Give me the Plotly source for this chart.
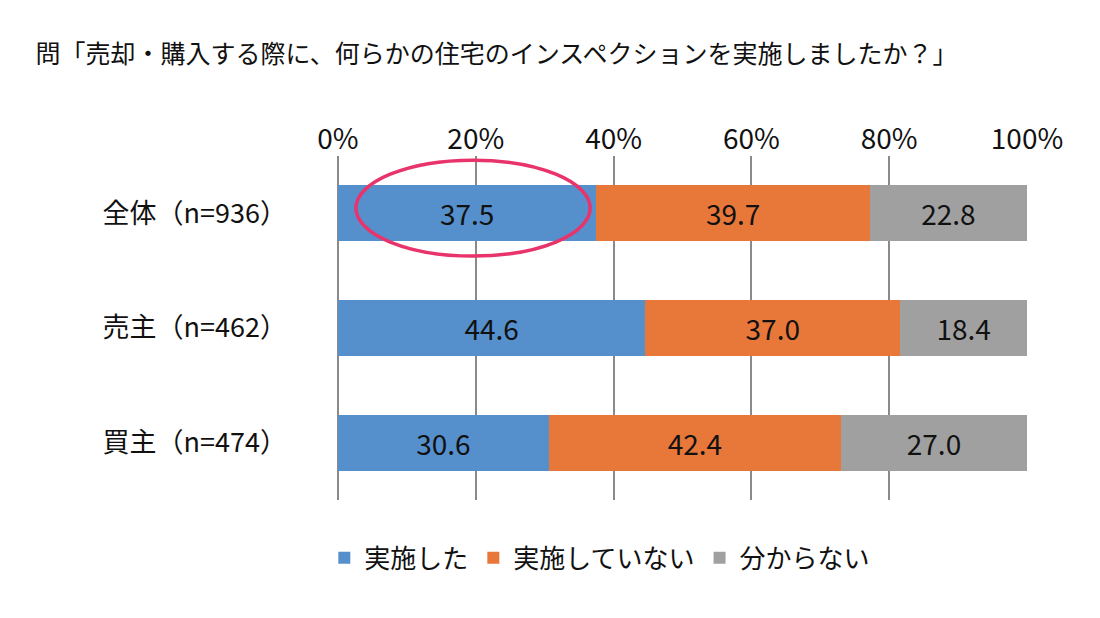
import plotly.graph_objects as go

categories = ["全体（n=936）", "売主（n=462）", "買主（n=474）"]
did = [37.5, 44.6, 30.6]
did_not = [39.7, 37.0, 42.4]
unknown = [22.8, 18.4, 27.0]
names = ["実施した", "実施していない", "分からない"]
colors = ["#5590cd", "#e8773a", "#a0a0a0"]
tickvals = [0, 20, 40, 60, 80, 100]
ticktext = ["0%", "20%", "40%", "60%", "80%", "100%"]

F = "Noto Sans CJK JP"
fig = go.Figure()
for vals, n, c in zip([did, did_not, unknown], names, colors):
    fig.add_trace(go.Bar(y=categories, x=vals, name=n, orientation="h", marker=dict(color=c, line=dict(width=0)),
                         text=[f"{v:.1f}" for v in vals], textposition="inside", insidetextanchor="middle",
                         textfont=dict(size=28, color="#111", family=F), width=0.49))
fig.update_layout(
    barmode="stack", width=1100, height=618, paper_bgcolor="white", plot_bgcolor="white",
    margin=dict(l=330, r=81, t=148, b=126, autoexpand=False), font=dict(family=F, color="#111"),
    xaxis=dict(side="top", range=[0, 100], tickvals=tickvals, ticktext=ticktext, showgrid=True,
               gridcolor="#8a8a8a", gridwidth=2, tickfont=dict(size=28, family=F), zeroline=True,
               zerolinecolor="#8a8a8a", zerolinewidth=2, ticks="", ticklen=0, automargin=False),
    yaxis=dict(autorange="reversed", tickfont=dict(size=27, family=F), ticks="", ticklen=0,
               ticklabelstandoff=50, automargin=False),
    legend=dict(orientation="h", x=0.38, xanchor="center", y=-0.1, yanchor="top", font=dict(size=26, family=F),
                traceorder="normal"),
    title=dict(text="問「売却・購入する際に、何らかの住宅のインスペクションを実施しましたか？」", x=0.025, y=0.94,
               xanchor="left", font=dict(size=25, family=F, color="#111"), automargin=False),
    showlegend=True,
)
fig.add_shape(type="circle", xref="x", yref="paper", x0=2.6, x1=36.6, y0=0.709, y1=0.988,
              line=dict(color="#e8336b", width=3.5))
fig.add_annotation(text="ホ", xref="paper", yref="paper", x=1.095, y=0.12, xanchor="left", showarrow=False, font=dict(size=20))
fig.add_annotation(text="建", xref="paper", yref="paper", x=1.095, y=0.0, xanchor="left", showarrow=False, font=dict(size=20))
fig.write_html("out.html")
